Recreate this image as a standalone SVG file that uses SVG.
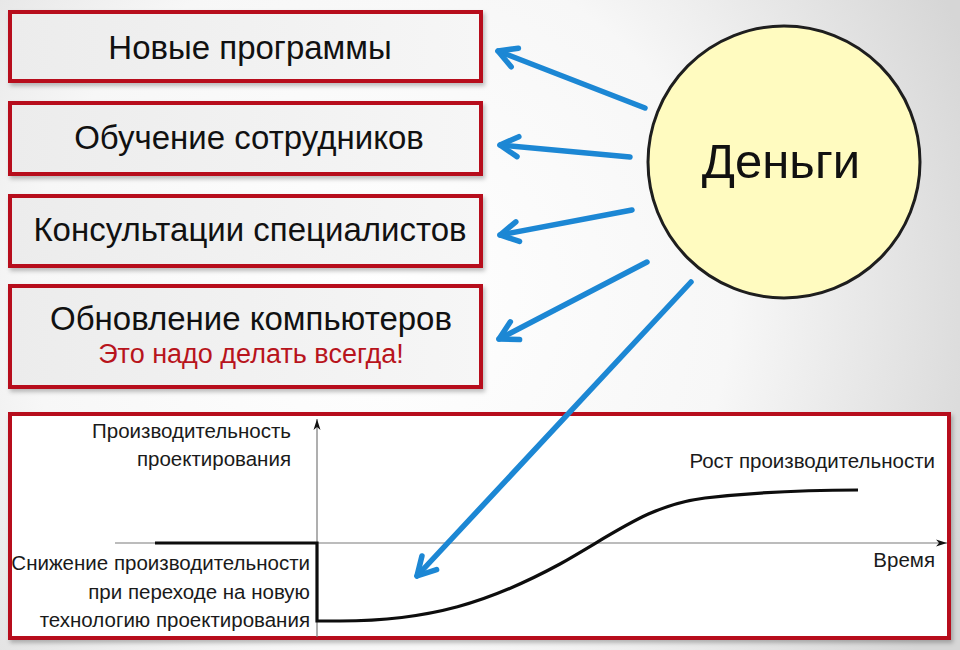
<svg xmlns="http://www.w3.org/2000/svg" width="960" height="650" viewBox="0 0 960 650">
<defs>
<radialGradient id="bg" cx="380" cy="300" r="640" gradientUnits="userSpaceOnUse">
<stop offset="0" stop-color="#ffffff"/>
<stop offset="0.55" stop-color="#f7f7f7"/>
<stop offset="1" stop-color="#d6d6d6"/>
</radialGradient>
<linearGradient id="boxfill" x1="0" y1="0" x2="1" y2="0">
<stop offset="0" stop-color="#ececec"/>
<stop offset="1" stop-color="#f6f6f6"/>
</linearGradient>
<filter id="sh" x="-5%" y="-10%" width="110%" height="130%">
<feDropShadow dx="2" dy="3" stdDeviation="2" flood-color="#000" flood-opacity="0.25"/>
</filter>
<marker id="ah" viewBox="-22 -14 26 28" refX="0" refY="0" markerWidth="26" markerHeight="28" markerUnits="userSpaceOnUse" orient="auto">
<path d="M-18,-10 L0,0 L-18,10" fill="none" stroke="#1c87d4" stroke-width="5.5" stroke-linecap="round" stroke-linejoin="round"/>
</marker>
<marker id="ax" viewBox="-12 -5 14 10" refX="0" refY="0" markerWidth="14" markerHeight="10" markerUnits="userSpaceOnUse" orient="auto">
<path d="M-11,-3.5 L0,0 L-11,3.5 L-8,0 Z" fill="#111"/>
</marker>
</defs>
<style>
.box{fill:url(#boxfill);stroke:#b7111c;stroke-width:4;filter:url(#sh)}
.t{font-family:"Liberation Sans",Arial,sans-serif;fill:#111}
.bt{font-size:33px;text-anchor:middle}
.ct{font-size:20.5px;fill:#1a1a1a}
.red{font-size:27px;text-anchor:middle;fill:#b8141c}
.conn{stroke:#1c87d4;stroke-width:5.5;stroke-linecap:round;fill:none;marker-end:url(#ah)}
.axis{stroke:#7a7a7a;stroke-width:1.2;fill:none}
</style>
<rect width="960" height="650" fill="url(#bg)"/>

<g id="n1">
<rect class="box" x="10" y="12" width="471" height="69"/>
<text class="t bt" x="250" y="59">Новые программы</text>
</g>
<g id="n2">
<rect class="box" x="10" y="103" width="471" height="71"/>
<text class="t bt" x="249" y="149">Обучение сотрудников</text>
</g>
<g id="n3">
<rect class="box" x="10" y="196" width="471" height="70"/>
<text class="t bt" x="250" y="241">Консультации специалистов</text>
</g>
<g id="n4">
<rect class="box" x="10" y="286" width="471" height="101"/>
<text class="t bt" x="251" y="330">Обновление компьютеров</text>
<text class="t red" x="251" y="363">Это надо делать всегда!</text>
</g>

<g id="money">
<circle cx="784" cy="162" r="136" fill="#fffbc0" stroke="#1e1e1e" stroke-width="3"/>
<text class="t" x="781" y="178" font-size="49" text-anchor="middle">Деньги</text>
</g>

<g id="chart">
<rect x="10" y="414" width="939" height="224" fill="#ffffff" stroke="#b7111c" stroke-width="4" filter="url(#sh)"/>
<line class="axis" x1="317" y1="637" x2="317" y2="419" marker-end="url(#ax)"/>
<line class="axis" x1="115" y1="543" x2="947" y2="543" marker-end="url(#ax)"/>
<path d="M155,543 H317 V621 H340 C430,621 490,602 560,564 C620,530 650,505 705,498 C765,491 820,490 858,490" fill="none" stroke="#0d0d0d" stroke-width="3.2"/>
<text class="t ct" x="291" y="438" text-anchor="end">Производительность</text>
<text class="t ct" x="291" y="466" text-anchor="end">проектирования</text>
<text class="t ct" x="310" y="570" text-anchor="end">Снижение производительности</text>
<text class="t ct" x="310" y="599" text-anchor="end">при переходе на новую</text>
<text class="t ct" x="310" y="627" text-anchor="end">технологию проектирования</text>
<text class="t ct" x="935" y="468" text-anchor="end">Рост производительности</text>
<text class="t ct" x="935" y="567" text-anchor="end">Время</text>
</g>

<g id="connectors">
<line class="conn" x1="645" y1="108" x2="498" y2="51"/>
<line class="conn" x1="630" y1="157" x2="500" y2="145"/>
<line class="conn" x1="632" y1="210" x2="500" y2="235"/>
<line class="conn" x1="647" y1="262" x2="499" y2="339"/>
<line class="conn" x1="691" y1="282" x2="417" y2="576"/>
</g>
</svg>
